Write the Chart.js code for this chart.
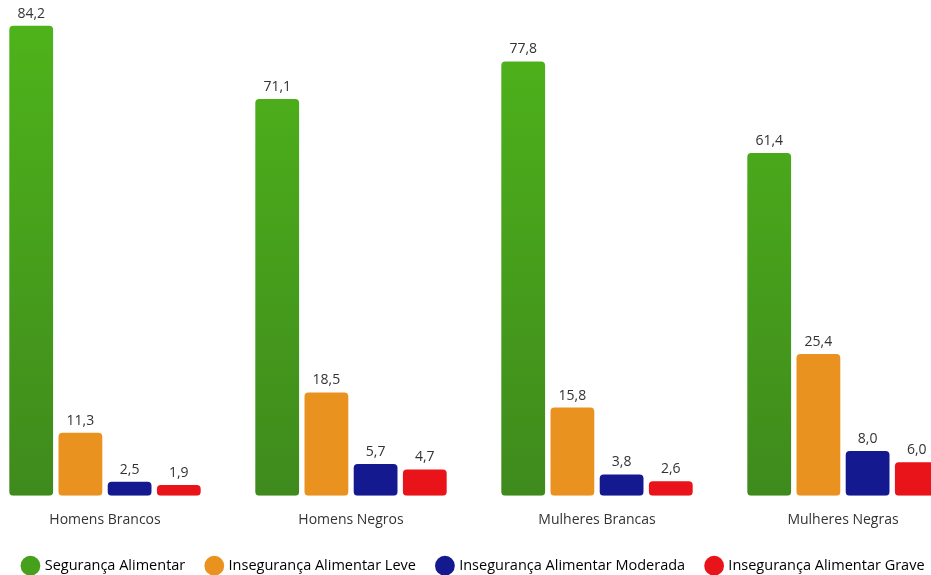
<!DOCTYPE html>
<html>
<head>
<meta charset="utf-8">
<script src="https://cdn.jsdelivr.net/npm/chart.js@4"></script>
<style>
  html, body { margin: 0; padding: 0; background: #fff; overflow: hidden; }
  .wrap { position: absolute; left: -18px; top: 0; width: 984px; height: 583px; }
</style>
</head>
<body>
<div class="wrap"><canvas id="myChart"></canvas></div>
<script>
const categories = ["Homens Brancos", "Homens Negros", "Mulheres Brancas", "Mulheres Negras"];
const seriesNames = [
  "Segurança Alimentar",
  "Insegurança Alimentar Leve",
  "Insegurança Alimentar Moderada",
  "Insegurança Alimentar Grave"
];
const seguranca = [84.2, 71.1, 77.8, 61.4];
const leve = [11.3, 18.5, 15.8, 25.4];
const moderada = [2.5, 5.7, 3.8, 8.0];
const grave = [1.9, 4.7, 2.6, 6.0];

const textColor = "#333333";
const fontFamily = "'Open Sans', 'Noto Sans', sans-serif";
const legendColors = ["#46a01c", "#e9921f", "#15198f", "#e9141a"];

const greenFill = (context) => {
  const area = context.chart.chartArea;
  if (!area) return "#46a01c";
  const g = context.chart.ctx.createLinearGradient(0, area.top, 0, area.bottom);
  g.addColorStop(0, "#4fb51a");
  g.addColorStop(1, "#3f8a1d");
  return g;
};

// value labels above each bar, decimal comma
const valueLabels = {
  id: "valueLabels",
  afterDatasetsDraw(chart) {
    const ctx = chart.ctx;
    ctx.save();
    ctx.font = "14px " + fontFamily;
    ctx.fillStyle = textColor;
    ctx.textAlign = "center";
    ctx.textBaseline = "bottom";
    chart.data.datasets.forEach((ds, i) => {
      chart.getDatasetMeta(i).data.forEach((bar, j) => {
        ctx.fillText(ds.data[j].toFixed(1).replace(".", ","), bar.x, bar.y - 5);
      });
    });
    ctx.restore();
  }
};

const makeSet = (label, data, color) => ({
  label: label,
  data: data,
  backgroundColor: color,
  borderRadius: 4,
  borderSkipped: false,
  categoryPercentage: 0.8,
  barPercentage: 0.89
});

const ctx = document.getElementById("myChart").getContext("2d");
const myChart = new Chart(ctx, {
  type: "bar",
  data: {
    labels: categories,
    datasets: [
      makeSet(seriesNames[0], seguranca, greenFill),
      makeSet(seriesNames[1], leve, legendColors[1]),
      makeSet(seriesNames[2], moderada, legendColors[2]),
      makeSet(seriesNames[3], grave, legendColors[3])
    ]
  },
  options: {
    responsive: true,
    maintainAspectRatio: false,
    animation: false,
    layout: { padding: { top: 4, right: 0, left: 0, bottom: 0 } },
    plugins: {
      tooltip: { enabled: false },
      legend: {
        position: "bottom",
        labels: {
          usePointStyle: true,
          pointStyle: "circle",
          boxWidth: 14,
          boxHeight: 14,
          padding: 22,
          color: textColor,
          font: { family: fontFamily, size: 14.5 },
          generateLabels: (chart) => chart.data.datasets.map((ds, i) => ({
            text: ds.label,
            fillStyle: legendColors[i],
            strokeStyle: "transparent",
            lineWidth: 0,
            pointStyle: "circle",
            datasetIndex: i
          }))
        }
      }
    },
    scales: {
      x: {
        grid: { display: false },
        border: { display: false },
        ticks: { color: textColor, font: { family: fontFamily, size: 14 }, padding: 8 }
      },
      y: {
        display: false,
        min: 0,
        max: 88.1
      }
    }
  },
  plugins: [valueLabels]
});
</script>
</body>
</html>
